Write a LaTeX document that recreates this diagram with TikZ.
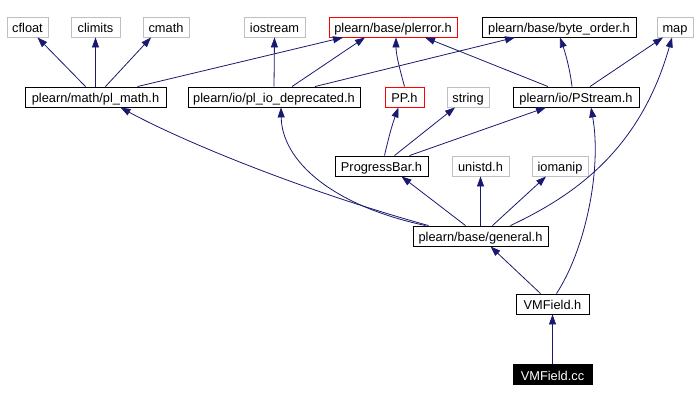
\documentclass[tikz,border=0pt]{standalone}
\usepackage{fontspec}
\setmainfont{Liberation Sans}
\usetikzlibrary{arrows.meta}
\definecolor{edgeblue}{HTML}{191970}
\definecolor{sysgray}{HTML}{BFBFBF}
\tikzset{
  file/.style={draw=black,fill=white,line width=0.9pt,minimum height=20pt,inner xsep=2pt,inner ysep=0pt,
    text height=11.5pt,text depth=0.5pt,font=\fontsize{12.8}{14}\selectfont},
  sys/.style={file,draw=sysgray},
  warn/.style={file,draw=red},
  self/.style={file,fill=black,text=white},
  dep/.style={draw=edgeblue,line width=0.8pt,-{Triangle[length=10pt,width=7pt]}}
}
\begin{document}
\begin{tikzpicture}[x=1pt,y=-1pt]
  \useasboundingbox (0,0) rectangle (700,401);
  % top row
  \node[sys,minimum width=41pt] (cfloat) at (27.5,27) {cfloat};
  \node[sys,minimum width=49pt] (climits) at (95.5,27) {climits};
  \node[sys,minimum width=46pt] (cmath) at (166,27) {cmath};
  \node[sys,minimum width=61pt] (iostream) at (274.5,27) {iostream};
  \node[warn,minimum width=128pt] (plerror) at (393,27) {plearn/base/plerror.h};
  \node[file,minimum width=154pt] (byteorder) at (559,27) {plearn/base/byte\_order.h};
  \node[sys,minimum width=36pt] (map) at (675,27) {map};
  % second row
  \node[file,minimum width=141pt] (plmath) at (95.5,97) {plearn/math/pl\_math.h};
  \node[file,minimum width=172pt] (plio) at (274,97) {plearn/io/pl\_io\_deprecated.h};
  \node[warn,minimum width=39pt] (pp) at (404.5,97) {PP.h};
  \node[sys,minimum width=42pt] (string) at (468,97) {string};
  \node[file,minimum width=126pt] (pstream) at (576,97) {plearn/io/PStream.h};
  % third row
  \node[file,minimum width=93pt] (progress) at (381.5,166) {ProgressBar.h};
  \node[sys,minimum width=57pt] (unistd) at (480.5,166) {unistd.h};
  \node[sys,minimum width=56pt] (iomanip) at (560,166) {iomanip};
  % lower part
  \node[file,minimum width=135pt] (general) at (480.5,236) {plearn/base/general.h};
  \node[file,minimum width=73pt] (vmfieldh) at (552.5,304) {VMField.h};
  \node[self,minimum width=79pt] (vmfieldcc) at (552.5,374.5) {VMField.cc};

  % includes of pl_math.h
  \draw[dep] ([xshift=-10pt]plmath.north) -- ([xshift=10pt]cfloat.south);
  \draw[dep] (plmath.north) -- (climits.south);
  \draw[dep] ([xshift=10pt]plmath.north) -- ([xshift=-15pt]cmath.south);
  \draw[dep] ([xshift=42pt]plmath.north) -- ([xshift=-50pt]plerror.south);
  % includes of pl_io_deprecated.h
  \draw[dep] (plio.north) -- (iostream.south);
  \draw[dep] ([xshift=18pt]plio.north) -- ([xshift=-28pt]plerror.south);
  \draw[dep] ([xshift=41pt]plio.north) -- ([xshift=-44pt]byteorder.south);
  % includes of PP.h and PStream.h
  \draw[dep] (pp.north) .. controls (400,70) and (396,55) .. ([xshift=3pt]plerror.south);
  \draw[dep] ([xshift=-28pt]pstream.north) -- ([xshift=32pt]plerror.south);
  \draw[dep] ([xshift=-4pt]pstream.north) .. controls (570,70) and (566,55) .. ([xshift=1pt]byteorder.south);
  \draw[dep] ([xshift=14pt]pstream.north) -- ([xshift=-12pt]map.south);
  % includes of ProgressBar.h
  \draw[dep] ([xshift=3pt]progress.north) .. controls (388,140) and (392,125) .. ([xshift=-6pt]pp.south);
  \draw[dep] ([xshift=13pt]progress.north) -- ([xshift=-13pt]string.south);
  \draw[dep] ([xshift=28pt]progress.north) -- ([xshift=-30pt]pstream.south);
  % includes of general.h
  \draw[dep] ([xshift=-52pt]general.north) .. controls (300,190) and (180,140) .. ([xshift=25pt]plmath.south);
  \draw[dep] ([xshift=-55pt]general.north) .. controls (330,205) and (282,160) .. ([xshift=7pt]plio.south);
  \draw[dep] ([xshift=-15pt]general.north) -- ([xshift=20pt]progress.south);
  \draw[dep] (general.north) -- (unistd.south);
  \draw[dep] ([xshift=12pt]general.north) -- ([xshift=-14pt]iomanip.south);
  \draw[dep] ([xshift=30pt]general.north) .. controls (575,195) and (640,150) .. ([xshift=-3pt]map.south);
  % includes of VMField.h
  \draw[dep] ([xshift=-12pt]vmfieldh.north) -- ([xshift=10pt]general.south);
  \draw[dep] ([xshift=4pt]vmfieldh.north) .. controls (585,250) and (602,170) .. ([xshift=15pt]pstream.south);
  \draw[dep] (vmfieldcc) -- (vmfieldh);
\end{tikzpicture}
\end{document}
